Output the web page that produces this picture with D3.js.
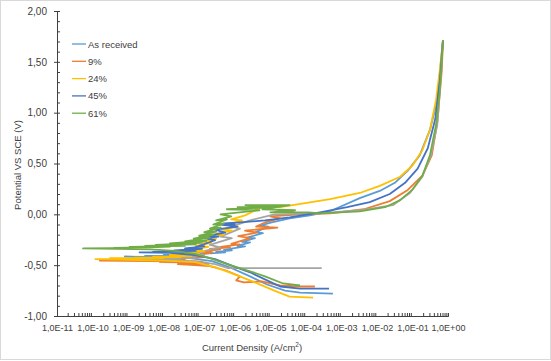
<!DOCTYPE html>
<html>
<head>
<meta charset="utf-8">
<script src="https://cdn.jsdelivr.net/npm/d3@7/dist/d3.min.js"></script>
<style>
html,body{margin:0;padding:0;background:#fff;}
svg{display:block;}
text{font-family:"Liberation Sans",Arial,sans-serif;fill:#404040;}
</style>
</head>
<body>
<svg id="chart" width="551" height="361"></svg>
<script>
// ---- Data (current density A/cm², potential V vs SCE) ----
const seriesColors = ["#5B9BD5", "#ED7D31", "#A5A5A5", "#FFC000", "#4472C4", "#70AD47"];
const legendNames = ["As received", "9%", "24%", "45%", "61%"];
const legendColors = ["#5B9BD5", "#ED7D31", "#FFC000", "#4472C4", "#70AD47"];

const asReceived = [
  [5.8e-4,-0.78],[6.9e-5,-0.77],[2.6e-5,-0.75],[8.1e-6,-0.69],[2.7e-6,-0.61],[8.3e-7,-0.53],
  [2.3e-7,-0.46],[5.5e-8,-0.43],[7.9e-9,-0.425],[8.1e-10,-0.415],[1.5e-8,-0.42],[3e-9,-0.41],
  [4e-8,-0.41],[1e-8,-0.40],[1.05e-7,-0.395],[3e-8,-0.39],[2e-7,-0.385],[5.4e-7,-0.375],
  [3e-7,-0.37],[8.3e-7,-0.355],[5e-7,-0.35],[1.95e-6,-0.315],[1.2e-6,-0.31],[2.7e-6,-0.275],
  [1.6e-6,-0.27],[3.7e-6,-0.235],[2.2e-6,-0.23],[6.2e-6,-0.185],[3.9e-6,-0.175],[8.7e-6,-0.12],
  [5e-6,-0.11],[1.1e-5,-0.08],[3.5e-5,-0.04],[1.3e-4,-0.01],[4.8e-4,0.03],[3.3e-3,0.16],
  [1.2e-2,0.23],[3.2e-2,0.31],[7.4e-2,0.43],[0.16,0.58],[0.31,0.83],[0.50,1.12],[0.62,1.47],[0.72,1.71]
];
const pct9 = [
  [1.8e-4,-0.71],[6.9e-5,-0.71],[1.9e-5,-0.70],[5.8e-6,-0.66],[1.8e-6,-0.67],[1.1e-6,-0.65],
  [1.4e-6,-0.61],[5.4e-7,-0.55],[2.0e-7,-0.51],[7.6e-8,-0.50],[2.5e-8,-0.49],[1.8e-7,-0.49],
  [3e-8,-0.48],[1.6e-7,-0.475],[7.9e-9,-0.47],[1.2e-7,-0.465],[1.6e-10,-0.455],[4.0e-8,-0.45],
  [6e-9,-0.45],[1.4e-7,-0.42],[5e-8,-0.42],[2.3e-7,-0.375],[1.2e-7,-0.37],[3.9e-7,-0.345],
  [2e-7,-0.34],[7.4e-7,-0.325],[4e-7,-0.32],[1.4e-6,-0.295],[8e-7,-0.29],[2.7e-6,-0.235],
  [1.25e-6,-0.215],[4.2e-6,-0.18],[1.95e-6,-0.16],[1.6e-5,-0.13],[4e-6,-0.12],[7.1e-6,-0.08],
  [1.9e-5,-0.04],[1.0e-5,-0.02],[6.9e-5,0.0],[4.8e-4,0.01],[4.3e-3,0.05],[2.3e-2,0.13],
  [7.4e-2,0.24],[0.19,0.38],[0.35,0.58],[0.51,0.93],[0.67,1.42],[0.72,1.71]
];
const unlabeled = [
  [2.8e-4,-0.53],[6.5e-7,-0.53],[2.8e-7,-0.49],[7.6e-8,-0.46],[2.1e-9,-0.445],[2.9e-8,-0.44],
  [5e-9,-0.435],[8e-8,-0.43],[2e-8,-0.425],[1.4e-7,-0.40],[6e-8,-0.39],[3.9e-7,-0.325],
  [2e-7,-0.30],[8.3e-7,-0.235],[4e-7,-0.22],[1.4e-6,-0.14],[8e-7,-0.12],[2.7e-6,-0.06],
  [1.3e-5,0.0],[2.5e-4,0.01],[3.3e-3,0.04],[2.8e-2,0.09],[8.5e-2,0.21],[0.19,0.37],
  [0.33,0.58],[0.50,0.88],[0.62,1.32],[0.72,1.69]
];
const pct24 = [
  [1.6e-4,-0.82],[3.5e-5,-0.81],[1.3e-5,-0.75],[3.7e-6,-0.67],[1.0e-6,-0.59],[2.8e-7,-0.52],
  [7.6e-8,-0.47],[1.1e-8,-0.455],[1.2e-10,-0.44],[2e-9,-0.44],[3.1e-10,-0.43],[1e-8,-0.43],
  [1.5e-9,-0.425],[3e-8,-0.42],[5e-9,-0.415],[6e-8,-0.41],[1.5e-8,-0.40],[1e-7,-0.39],
  [3e-8,-0.38],[1.4e-7,-0.36],[6e-8,-0.35],[1.8e-7,-0.32],[8e-8,-0.31],[2.2e-7,-0.28],
  [1.2e-7,-0.27],[3e-7,-0.24],[1.6e-7,-0.23],[5e-7,-0.20],[3e-7,-0.19],[8.3e-7,-0.16],
  [4.4e-7,-0.15],[1.2e-6,-0.12],[6.6e-7,-0.10],[1.6e-6,-0.06],[8e-7,-0.05],[1.95e-6,-0.01],
  [5.1e-6,0.06],[2.5e-6,0.07],[1.9e-5,0.07],[4.8e-4,0.15],[3.3e-3,0.21],[1.2e-2,0.28],
  [4.5e-2,0.37],[0.10,0.48],[0.19,0.63],[0.31,0.83],[0.46,1.12],[0.59,1.42],[0.72,1.71]
];
const pct45 = [
  [4.5e-4,-0.73],[6.9e-5,-0.73],[1.9e-5,-0.71],[8.1e-6,-0.65],[2.7e-6,-0.57],[8.9e-7,-0.51],
  [2.8e-7,-0.44],[7.6e-8,-0.40],[1.5e-8,-0.38],[2.1e-9,-0.375],[4.0e-8,-0.37],[5e-9,-0.37],
  [8e-8,-0.36],[2e-8,-0.355],[1.2e-7,-0.34],[4e-8,-0.335],[1.4e-7,-0.315],[7.6e-8,-0.325],
  [2.8e-7,-0.255],[1.4e-7,-0.235],[3.5e-7,-0.22],[1.8e-7,-0.21],[5.4e-7,-0.18],[2.8e-7,-0.15],
  [1.2e-6,-0.12],[3.9e-7,-0.10],[1.0e-6,-0.10],[5e-7,-0.09],[1.4e-6,-0.08],[7.1e-6,-0.06],
  [3.5e-5,-0.03],[2.5e-4,0.02],[1.45e-3,0.07],[6.3e-3,0.12],[2.3e-2,0.20],[6.2e-2,0.31],
  [0.14,0.45],[0.27,0.65],[0.44,0.94],[0.59,1.32],[0.72,1.71]
];
const pct61 = [
  [6.9e-5,-0.70],[2.3e-5,-0.68],[7.1e-6,-0.61],[2.7e-6,-0.56],[7.4e-7,-0.50],[2.0e-7,-0.43],
  [7.6e-8,-0.39],[2.1e-8,-0.36],[4.2e-9,-0.345],[5.4e-11,-0.335],[2.1e-9,-0.33],[4.0e-10,-0.33],
  [1.5e-8,-0.32],[1.1e-9,-0.32],[4.0e-8,-0.31],[3e-9,-0.31],[8e-8,-0.295],[6e-9,-0.30],
  [1.2e-7,-0.28],[1.5e-8,-0.285],[1.6e-7,-0.26],[4e-8,-0.265],[2.0e-7,-0.23],[7e-8,-0.24],
  [2.5e-7,-0.20],[1.0e-7,-0.21],[3.0e-7,-0.17],[1.4e-7,-0.175],[4e-7,-0.13],[2e-7,-0.14],
  [5e-7,-0.09],[2.5e-7,-0.10],[6e-7,-0.05],[3e-7,-0.06],[8e-7,-0.02],[4e-7,0.0],
  [5e-6,0.04],[6e-7,0.05],[1e-5,0.07],[1.2e-6,0.07],[2e-5,0.08],[2e-6,0.09],[3.5e-5,0.09],
  [6e-6,0.05],[5e-5,0.04],[1e-5,0.02],[1.2e-4,0.02],[2.5e-4,0.01],[3.3e-3,0.03],[1.7e-2,0.07],
  [4.5e-2,0.14],[9.8e-2,0.24],[0.19,0.38],[0.31,0.58],[0.46,0.88],[0.59,1.22],[0.72,1.71]
];
const allSeries = [asReceived, pct9, unlabeled, pct24, pct45, pct61];

const xTickValues = [1e-11,1e-10,1e-9,1e-8,1e-7,1e-6,1e-5,1e-4,1e-3,1e-2,1e-1,1];
const xTickLabels = ["1,0E-11","1,0E-10","1,0E-09","1,0E-08","1,0E-07","1,0E-06","1,0E-05","1,0E-04","1,0E-03","1,0E-02","1,0E-01","1,0E+00"];
const yTickValues = [-1,-0.5,0,0.5,1,1.5,2];
const yTickLabels = ["-1,00","-0,50","0,00","0,50","1,00","1,50","2,00"];

// ---- Layout ----
const svg = d3.select("#chart");
svg.append("rect").attr("x",0.5).attr("y",0.5).attr("width",550).attr("height",359)
  .attr("fill","#fff").attr("stroke","#d9d9d9");

const x = d3.scaleLog().domain([1e-11, 1]).range([57, 448]);
const y = d3.scaleLinear().domain([-1, 2]).range([316, 11]);

const xMinor = [];
for (let e = -11; e < 0; e++) for (let m = 2; m <= 9; m++) xMinor.push(m * Math.pow(10, e));
const yMinor = d3.range(-10, 21).map(v => v / 10);

const axisColor = "#404040";
const gx = svg.append("g").attr("transform", "translate(0,316)");
gx.call(d3.axisBottom(x).tickValues(xTickValues).tickSize(0)
  .tickFormat((d, i) => xTickLabels[i]).tickPadding(9));
gx.append("g").call(d3.axisTop(x).tickValues(xMinor).tickSize(3).tickFormat(""));
gx.selectAll("path.domain").attr("stroke", axisColor);
gx.selectAll("line").attr("stroke", axisColor);
gx.selectAll("text").attr("font-size", "9px").attr("fill", "#404040")
  .style("font-family", "'Liberation Sans',Arial,sans-serif");

const gy = svg.append("g").attr("transform", "translate(57,0)");
gy.call(d3.axisLeft(y).tickValues(yTickValues).tickSize(3)
  .tickFormat(d => yTickLabels[yTickValues.indexOf(d)]).tickPadding(7));
gy.append("g").call(d3.axisRight(y).tickValues(yMinor).tickSize(3).tickFormat(""));
gy.selectAll("path.domain").attr("stroke", axisColor);
gy.selectAll("line").attr("stroke", axisColor);
gy.selectAll("text").attr("font-size", "10px").attr("fill", "#404040")
  .style("font-family", "'Liberation Sans',Arial,sans-serif");

// ---- Curves ----
const line = d3.line().x(d => x(d[0])).y(d => y(d[1]));
const plot = svg.append("g");
allSeries.forEach((s, i) => {
  plot.append("path").datum(s).attr("d", line)
    .attr("fill", "none").attr("stroke", seriesColors[i])
    .attr("stroke-width", 1.8).attr("stroke-linejoin", "round");
});

// ---- Legend ----
const lg = svg.append("g");
legendNames.forEach((n, i) => {
  const yy = 44 + i * 17.3;
  lg.append("line").attr("x1", 72).attr("x2", 86).attr("y1", yy).attr("y2", yy)
    .attr("stroke", legendColors[i]).attr("stroke-width", 1.3);
  lg.append("text").attr("x", 88).attr("y", yy + 3.5).attr("font-size", "9.5px").text(n);
});

// ---- Axis titles ----
svg.append("text").attr("transform", "translate(21,165) rotate(-90)")
  .attr("text-anchor", "middle").attr("font-size", "9.5px").text("Potential VS SCE (V)");
const xt = svg.append("text").attr("x", 252).attr("y", 351)
  .attr("text-anchor", "middle").attr("font-size", "9.5px");
xt.append("tspan").text("Current Density (A/cm");
xt.append("tspan").attr("font-size", "6.5px").attr("dy", -4).text("2");
xt.append("tspan").attr("dy", 4).text(")");
</script>
</body>
</html>
